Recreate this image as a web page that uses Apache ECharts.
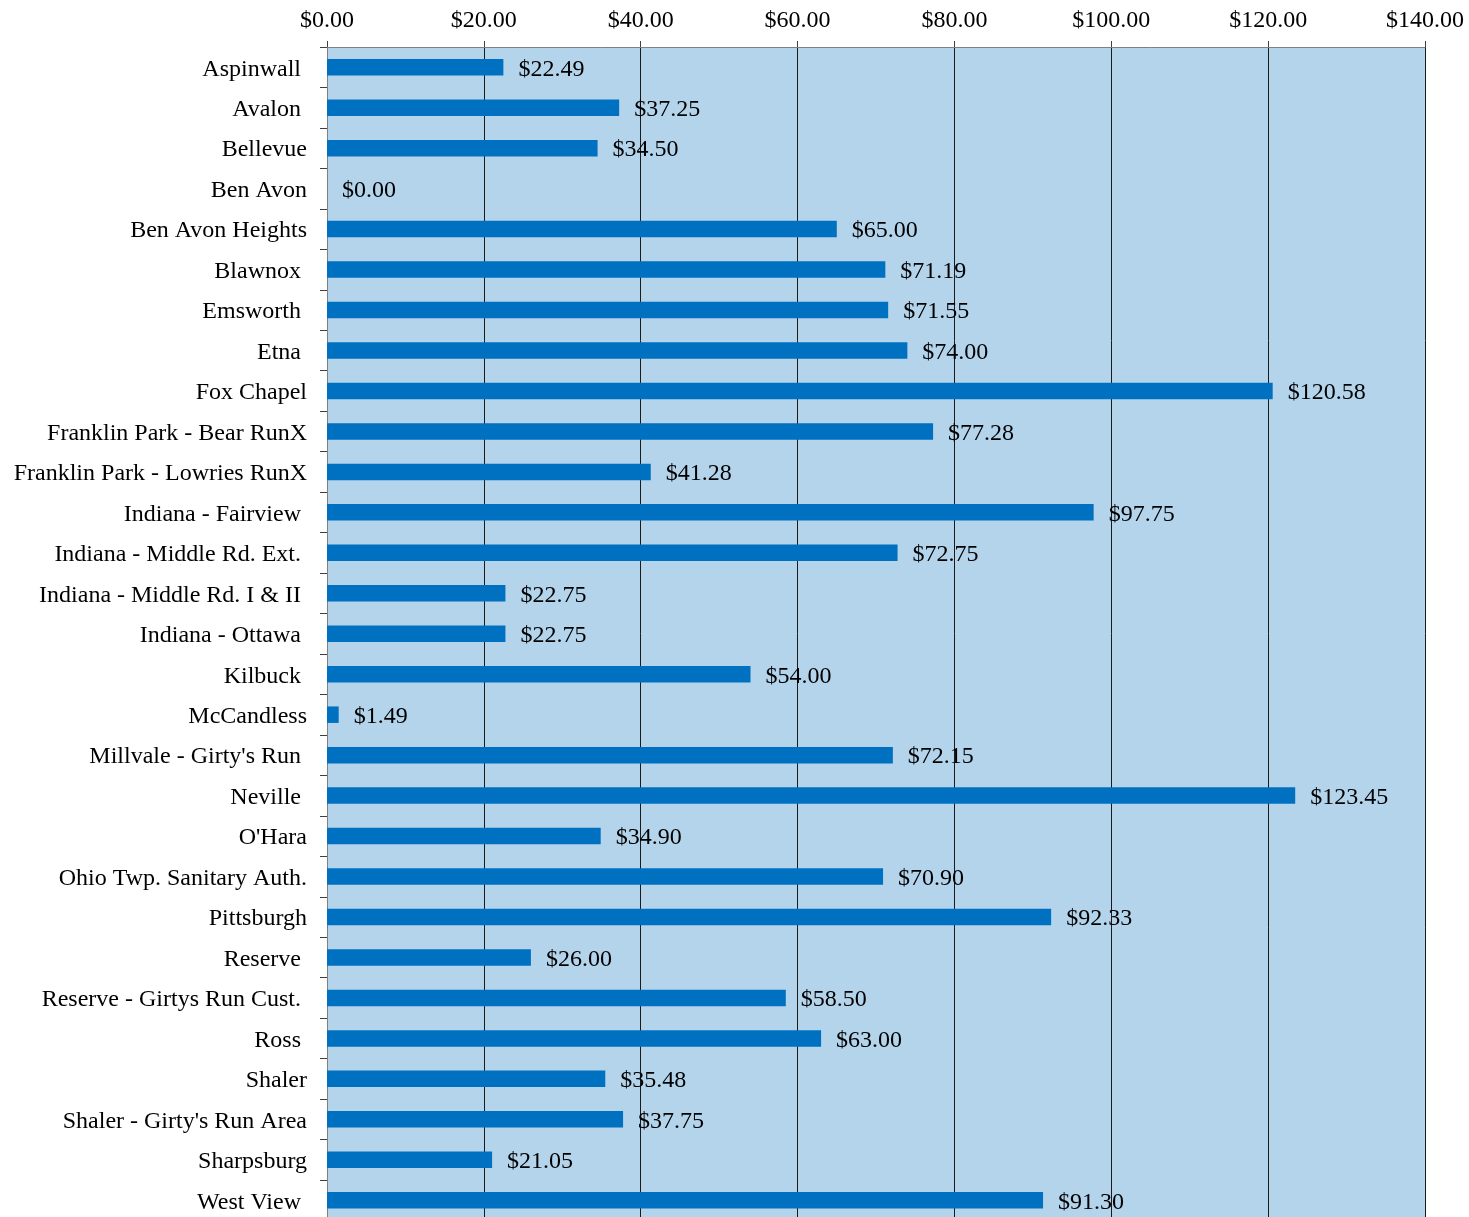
<!DOCTYPE html>
<html>
<head>
<meta charset="utf-8">
<script src="https://cdn.jsdelivr.net/npm/echarts@6/dist/echarts.min.js"></script>
<style>html,body{margin:0;padding:0;background:#fff;overflow:hidden}#c{width:1469px;height:1240px}</style>
</head>
<body>
<div id="c"></div>
<script>
const categories = ["Aspinwall ", "Avalon ", "Bellevue", "Ben Avon", "Ben Avon Heights", "Blawnox ", "Emsworth ", "Etna ", "Fox Chapel", "Franklin Park - Bear RunX", "Franklin Park - Lowries RunX", "Indiana - Fairview ", "Indiana - Middle Rd. Ext. ", "Indiana - Middle Rd. I & II ", "Indiana - Ottawa ", "Kilbuck ", "McCandless", "Millvale - Girty's Run ", "Neville ", "O'Hara", "Ohio Twp. Sanitary Auth.", "Pittsburgh", "Reserve ", "Reserve - Girtys Run Cust. ", "Ross ", "Shaler", "Shaler - Girty's Run Area", "Sharpsburg", "West View "];
const values = [22.49, 37.25, 34.50, 0.00, 65.00, 71.19, 71.55, 74.00, 120.58, 77.28, 41.28, 97.75, 72.75, 22.75, 22.75, 54.00, 1.49, 72.15, 123.45, 34.90, 70.90, 92.33, 26.00, 58.50, 63.00, 35.48, 37.75, 21.05, 91.30];
const xMin = 0, xMax = 140, xStep = 20;

const font = "'Liberation Serif', 'Times New Roman', serif";
const money = v => '$' + Number(v).toFixed(2);
const chart = echarts.init(document.getElementById('c'), null, {renderer: 'canvas'});
chart.setOption({
  animation: false,
  backgroundColor: '#ffffff',
  grid: {left: 327, right: 44, top: 47, height: 1173.5, show: true, backgroundColor: '#B4D4EC', borderWidth: 0, containLabel: false},
  xAxis: {
    type: 'value', position: 'top', min: xMin, max: xMax, interval: xStep,
    axisLine: {show: true, lineStyle: {color: '#808080', width: 1}},
    axisTick: {show: true, length: 6, inside: false, lineStyle: {color: '#404040'}},
    axisLabel: {fontFamily: font, fontSize: 24, color: '#000', margin: 14, formatter: money},
    splitLine: {show: true, lineStyle: {color: '#1a1a1a', width: 1}}
  },
  yAxis: {
    type: 'category', inverse: true, data: categories,
    axisLine: {show: true, lineStyle: {color: '#808080', width: 1}},
    axisTick: {show: true, length: 7, alignWithLabel: false, lineStyle: {color: '#404040'}},
    axisLabel: {
      fontFamily: font, fontSize: 24, color: '#000', margin: 20, interval: 0,
      formatter: v => '{a|' + v + '}',
      rich: {a: {fontFamily: font, fontSize: 24, color: '#000', padding: [4, 0, 0, 0]}}
    }
  },
  series: [{
    type: 'bar', data: values, barWidth: 16.5,
    itemStyle: {color: '#0070C0'},
    label: {show: true, position: 'right', distance: 15, offset: [0, 2], fontFamily: font, fontSize: 24, color: '#000', formatter: p => money(p.value)}
  }]
});
</script>
</body>
</html>
